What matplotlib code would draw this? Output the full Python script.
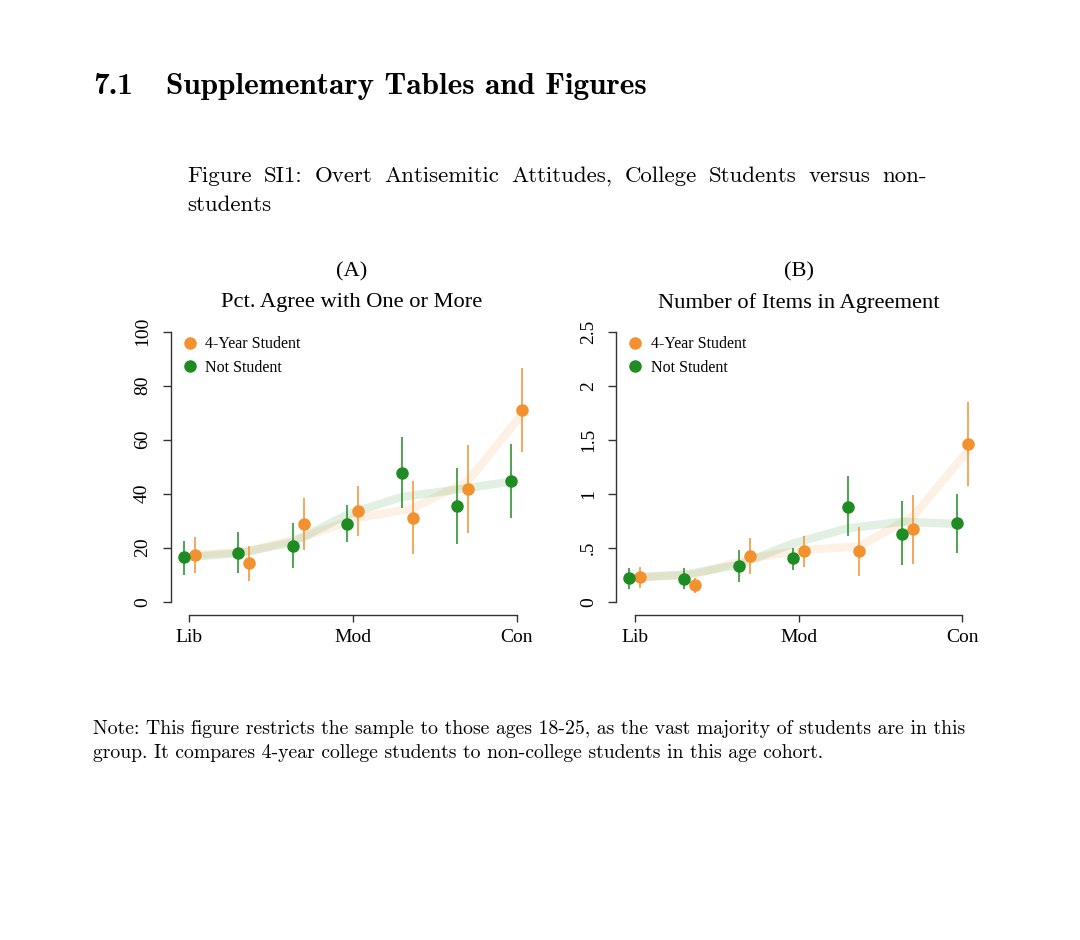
import matplotlib
matplotlib.use("Agg")
import matplotlib.pyplot as plt
from matplotlib.lines import Line2D

# ---------------- data ----------------
ideology = [1, 2, 3, 4, 5, 6, 7]
tick_pos = [1, 4, 7]
tick_labels = ["Lib", "Mod", "Con"]
series_names = ["4-Year Student", "Not Student"]

# Panel A: Pct. agree with one or more
a_student = [17.2, 14.2, 28.8, 33.6, 31.1, 41.6, 71.0]
a_student_lo = [10.5, 7.7, 19.1, 24.3, 17.5, 25.3, 55.6]
a_student_hi = [23.8, 20.7, 38.3, 42.9, 44.8, 58.0, 86.4]
a_student_trend = [17.3, 18.7, 24.0, 31.0, 34.6, 44.5, 69.5]

a_not = [16.4, 18.1, 20.7, 28.9, 47.7, 35.3, 44.7]
a_not_lo = [10.0, 10.5, 12.4, 22.0, 34.6, 21.4, 30.9]
a_not_hi = [22.5, 25.9, 29.0, 35.8, 60.9, 49.4, 58.4]
a_not_trend = [16.4, 17.9, 22.0, 32.3, 38.8, 41.5, 44.5]

# Panel B: Number of items in agreement
b_student = [0.225, 0.15, 0.42, 0.47, 0.47, 0.67, 1.46]
b_student_lo = [0.13, 0.08, 0.26, 0.32, 0.24, 0.35, 1.07]
b_student_hi = [0.32, 0.22, 0.59, 0.61, 0.69, 0.99, 1.85]
b_student_trend = [0.23, 0.25, 0.40, 0.48, 0.51, 0.79, 1.40]

b_not = [0.216, 0.21, 0.33, 0.40, 0.88, 0.63, 0.725]
b_not_lo = [0.12, 0.12, 0.18, 0.29, 0.61, 0.34, 0.45]
b_not_hi = [0.31, 0.31, 0.48, 0.50, 1.16, 0.935, 1.00]
b_not_trend = [0.22, 0.25, 0.34, 0.54, 0.68, 0.74, 0.72]

a_yticks = [0, 20, 40, 60, 80, 100]
a_yticklabels = ["0", "20", "40", "60", "80", "100"]
b_yticks = [0, 0.5, 1, 1.5, 2, 2.5]
b_yticklabels = ["0", ".5", "1", "1.5", "2", "2.5"]

caption_line1 = "Figure SI1: Overt Antisemitic Attitudes, College Students versus non-"
caption_line2 = "students"
note_line1 = ("Note: This figure restricts the sample to those ages 18-25, as the vast "
              "majority of students are in this")
note_line2 = "group. It compares 4-year college students to non-college students in this age cohort."

# ---------------- style ----------------
ORANGE = "#F4912F"
GREEN = "#1E8C22"
SERIF = "Liberation Serif"
W, H = 1080, 940

fig = plt.figure(figsize=(W / 100, H / 100), dpi=100)
fig.patch.set_facecolor("white")
renderer = fig.canvas.get_renderer()


def fx(px):
    return px / W


def fy(py):
    return 1 - py / H


def justified(text, x0, x1, py, **kw):
    words = text.split(" ")
    arts = [fig.text(0, fy(py), w, ha="left", va="center", **kw) for w in words]
    widths = [a.get_window_extent(renderer).width for a in arts]
    gap = ((x1 - x0) - sum(widths)) / (len(words) - 1)
    x = x0
    for a, w in zip(arts, widths):
        a.set_x(fx(x))
        x += w + gap


def panel(rect, ylim, yticks, yticklabels,
          s, s_lo, s_hi, s_tr, n, n_lo, n_hi, n_tr):
    ax = fig.add_axes(rect)
    off = 0.1
    xs = [v + off for v in ideology]
    xn = [v - off for v in ideology]
    ax.plot(xs, s_tr, color=ORANGE, alpha=0.13, lw=6, solid_capstyle="butt", zorder=1)
    ax.plot(xn, n_tr, color=GREEN, alpha=0.13, lw=6, solid_capstyle="butt", zorder=1)
    ax.vlines(xs, s_lo, s_hi, color=ORANGE, lw=1.1, zorder=2)
    ax.vlines(xn, n_lo, n_hi, color=GREEN, lw=1.1, zorder=2)
    ax.plot(xs, s, "o", color=ORANGE, ms=8, mec=ORANGE, zorder=3)
    ax.plot(xn, n, "o", color=GREEN, ms=8, mec=GREEN, zorder=3)
    ax.set_xlim(0.66, 7.34)
    ax.set_ylim(*ylim)
    for side in ["top", "right"]:
        ax.spines[side].set_visible(False)
    ax.spines["left"].set_bounds(yticks[0], yticks[-1])
    ax.spines["bottom"].set_bounds(tick_pos[0], tick_pos[-1])
    for side in ["left", "bottom"]:
        ax.spines[side].set_color("#333333")
        ax.spines[side].set_linewidth(1.0)
    ax.set_yticks(yticks)
    ax.set_yticklabels(yticklabels, rotation=90, va="center",
                       fontfamily=SERIF, fontsize=14)
    ax.set_xticks(tick_pos)
    ax.set_xticklabels(tick_labels, fontfamily=SERIF, fontsize=14)
    ax.tick_params(axis="y", length=6, width=1, color="#333333", pad=8)
    ax.tick_params(axis="x", length=5, width=1, color="#333333", pad=5)
    handles = [Line2D([], [], ls="none", marker="o", ms=8, color=ORANGE),
               Line2D([], [], ls="none", marker="o", ms=8, color=GREEN)]
    ax.legend(handles, series_names, loc="upper left",
              bbox_to_anchor=(0.0, 0.985), frameon=False,
              prop={"family": SERIF, "size": 11.5},
              handlelength=1.0, handletextpad=0.45, labelspacing=0.45,
              borderaxespad=0.3)
    return ax


axA_rect = [fx(170.5), fy(614.9), 364.7 / W, (614.9 - 320.9) / H]
panel(axA_rect, (-4.9, 104.0), a_yticks, a_yticklabels,
      a_student, a_student_lo, a_student_hi, a_student_trend,
      a_not, a_not_lo, a_not_hi, a_not_trend)

axB_rect = [fx(616.3), fy(614.9), 364.7 / W, (614.9 - 320.9) / H]
panel(axB_rect, (-0.1225, 2.6), b_yticks, b_yticklabels,
      b_student, b_student_lo, b_student_hi, b_student_trend,
      b_not, b_not_lo, b_not_hi, b_not_trend)

# Panel titles
fig.text(fx(352), fy(272), "(A)", ha="center", va="center", family=SERIF, fontsize=16.2)
fig.text(fx(352), fy(303), "Pct. Agree with One or More", ha="center", va="center",
         family=SERIF, fontsize=16.2)
fig.text(fx(799), fy(272), "(B)", ha="center", va="center", family=SERIF, fontsize=16.2)
fig.text(fx(799), fy(303), "Number of Items in Agreement", ha="center", va="center",
         family=SERIF, fontsize=16.2)

# Page text
fig.text(fx(93), fy(86), "7.1", ha="left", va="center", family="cmb10", fontsize=22.5)
fig.text(fx(166), fy(86), "Supplementary Tables and Figures", ha="left", va="center",
         family="cmb10", fontsize=22.5)
justified(caption_line1, 187, 927, 176, family="cmr10", fontsize=16.5)
fig.text(fx(187), fy(205), caption_line2, ha="left", va="center", family="cmr10", fontsize=16.5)
fig.text(fx(93), fy(729), note_line1, ha="left", va="center", family="cmr10", fontsize=14.2)
fig.text(fx(93), fy(753), note_line2, ha="left", va="center", family="cmr10", fontsize=14.2)

fig.savefig("out.png", dpi=100, facecolor="white")
